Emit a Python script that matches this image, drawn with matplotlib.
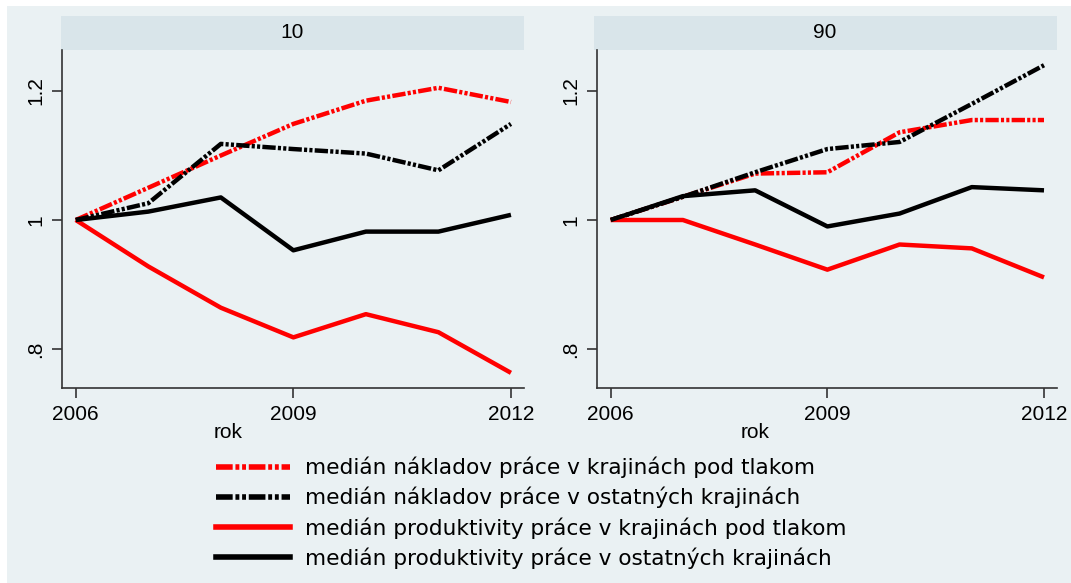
import matplotlib
matplotlib.use("Agg")
import matplotlib.pyplot as plt
from matplotlib.lines import Line2D
from matplotlib.patches import Rectangle

years = [2006, 2007, 2008, 2009, 2010, 2011, 2012]
panels = ["10", "90"]

# panel "10"
costs_pressure_10 = [1.0, 1.05, 1.10, 1.149, 1.185, 1.205, 1.183]
costs_other_10 = [1.0, 1.026, 1.118, 1.110, 1.103, 1.077, 1.149]
prod_pressure_10 = [1.0, 0.928, 0.864, 0.818, 0.854, 0.826, 0.763]
prod_other_10 = [1.0, 1.013, 1.035, 0.953, 0.982, 0.982, 1.008]

# panel "90"
costs_pressure_90 = [1.0, 1.036, 1.072, 1.074, 1.136, 1.155, 1.155]
costs_other_90 = [1.0, 1.036, 1.074, 1.110, 1.121, 1.180, 1.240]
prod_pressure_90 = [1.0, 1.0, 0.962, 0.923, 0.962, 0.956, 0.911]
prod_other_90 = [1.0, 1.037, 1.046, 0.990, 1.010, 1.051, 1.046]

labels = [
    "medián nákladov práce v krajinách pod tlakom",
    "medián nákladov práce v ostatných krajinách",
    "medián produktivity práce v krajinách pod tlakom",
    "medián produktivity práce v ostatných krajinách",
]

series = {
    "10": [costs_pressure_10, costs_other_10, prod_pressure_10, prod_other_10],
    "90": [costs_pressure_90, costs_other_90, prod_pressure_90, prod_other_90],
}

BG = "#EAF1F3"
STRIP = "#D9E5EA"
W, H = 1071, 583
dash = (3.0, 0.5, 0.7, 0.5, 0.7, 0.5)
styles = [
    dict(color="red", dashes=dash),
    dict(color="black", dashes=dash),
    dict(color="red", linestyle="-"),
    dict(color="black", linestyle="-"),
]

fig = plt.figure(figsize=(W / 100, H / 100), dpi=100, facecolor="white")
fig.patches.append(Rectangle((7 / W, 0), 1 - 7 / W, 1 - 6 / H,
                             transform=fig.transFigure, facecolor=BG,
                             edgecolor="none", zorder=-10))

def fx(px):
    return px / W

def fy(py):
    return 1 - py / H

axes_px = [(62, 524, 61), (597, 1057, 594)]
rok_x = [228, 755]

for (x0, x1, sx), name, rx in zip(axes_px, panels, rok_x):
    ax = fig.add_axes([fx(x0), fy(388), fx(x1 - x0), (388 - 50) / H])
    ax.set_facecolor(BG)
    for vals, st in zip(series[name], styles):
        ax.plot(years, vals, linewidth=3.2, solid_capstyle="butt", **st)
    ax.set_xlim(2005.81, 2012.18)
    ax.set_ylim(0.7395, 1.2636)
    ax.set_xticks([2006, 2009, 2012])
    ax.set_yticks([0.8, 1.0, 1.2])
    ax.set_yticklabels([".8", "1", "1.2"], rotation=90, va="center")
    for s in ["top", "right"]:
        ax.spines[s].set_visible(False)
    for s in ["left", "bottom"]:
        ax.spines[s].set_color("#333333")
        ax.spines[s].set_linewidth(1.2)
    ax.tick_params(length=7, width=1.2, color="#333333", labelsize=15,
                   pad=5)
    for lab in ax.get_xticklabels() + ax.get_yticklabels():
        lab.set_fontfamily("Liberation Sans")
    # strip header
    fig.patches.append(Rectangle((fx(sx), fy(50)), fx(463), 34 / H,
                                 transform=fig.transFigure, facecolor=STRIP,
                                 edgecolor="none", zorder=-5))
    fig.text(fx(sx + 231), fy(33), name, ha="center", va="center",
             fontsize=15, family="Liberation Sans")
    fig.text(fx(rx), fy(433), "rok", ha="center", va="center",
             fontsize=15, family="Liberation Sans")

handles = [Line2D([], [], linewidth=4, **st) for st in styles]
fig.legend(handles, labels, loc="upper left",
           bbox_to_anchor=(fx(205), fy(446)), frameon=False,
           prop={"family": "DejaVu Sans", "size": 15.6}, handlelength=3.4,
           handletextpad=0.72, labelspacing=0.4, borderpad=0)

fig.savefig("out.png", dpi=100, facecolor=fig.get_facecolor())
